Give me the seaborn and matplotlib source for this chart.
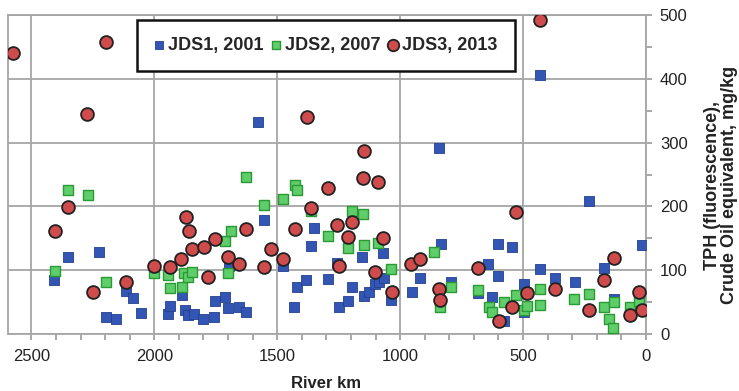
import numpy as np
import pandas as pd
import matplotlib
matplotlib.use("Agg")
import matplotlib.pyplot as plt
from matplotlib.ticker import MultipleLocator
import seaborn as sns

# ---- data (river km, TPH mg/kg) ----
jds1_km = [2408, 2350, 2226, 2197, 2157, 2115, 2088, 2053, 1943, 1935, 1888, 1876, 1862, 1840,
           1802, 1758, 1752, 1713, 1699, 1697, 1654, 1625, 1580, 1555, 1476, 1430, 1419, 1381,
           1362, 1350, 1294, 1256, 1248, 1213, 1195, 1154, 1148, 1127, 1101, 1084, 1064, 1071,
           1036, 953, 920, 843, 833, 793, 685, 642, 626, 601, 600, 576, 546, 497, 498, 433,
           430, 372, 290, 231, 170, 132, 18]
jds1_tph = [84, 120, 129, 27, 24, 68, 57, 33, 31, 44, 61, 38, 30, 31,
            24, 27, 52, 58, 40, 107, 42, 34, 332, 178, 106, 43, 74, 84,
            138, 166, 86, 112, 43, 52, 73, 121, 59, 66, 79, 82, 88, 127,
            54, 66, 88, 292, 141, 82, 65, 110, 58, 141, 91, 20, 136, 34, 79, 102,
            406, 87, 82, 208, 104, 55, 139]

jds2_km = [2405, 2350, 2270, 2197, 2000, 1943, 1935, 1888, 1880, 1862, 1848, 1713, 1699, 1686,
           1625, 1554, 1476, 1428, 1419, 1362, 1294, 1211, 1195, 1153, 1148, 1091, 1036, 861,
           836, 793, 684, 638, 626, 579, 527, 496, 484, 430, 433, 291, 231, 170, 132, 152,
           133, 64, 27]
jds2_tph = [99, 225, 218, 81, 95, 92, 72, 74, 95, 89, 97, 145, 95, 161,
            246, 202, 211, 234, 225, 193, 153, 135, 193, 188, 140, 143, 102, 128,
            42, 73, 69, 43, 34, 50, 61, 38, 44, 71, 45, 55, 62, 43, 50, 24,
            10, 43, 52]

jds3_km = [2573, 2405, 2350, 2275, 2248, 2197, 2115, 2000, 1935, 1892, 1873, 1859, 1848, 1798,
           1783, 1752, 1699, 1654, 1625, 1554, 1526, 1476, 1428, 1377, 1362, 1294, 1258, 1247,
           1213, 1195, 1153, 1148, 1103, 1091, 1071, 1035, 954, 920, 840, 836, 683, 599,
           545, 528, 484, 430, 372, 232, 170, 132, 64, 27, 16]
jds3_tph = [441, 161, 199, 345, 66, 458, 82, 107, 105, 117, 184, 161, 133, 137,
            90, 149, 120, 110, 165, 105, 133, 117, 165, 340, 198, 229, 171, 107,
            152, 175, 244, 287, 97, 238, 150, 66, 110, 117, 70, 54, 103, 21,
            42, 191, 64, 492, 70, 38, 84, 119, 29, 66, 38]

series_names = ["JDS1, 2001", "JDS2, 2007", "JDS3, 2013"]
x_ticks = [2500, 2000, 1500, 1000, 500, 0]
y_ticks = [0, 100, 200, 300, 400, 500]

sns.set_theme(style="white")
plt.rcParams['font.family'] = ['Liberation Sans', 'DejaVu Sans']

fig = plt.figure(figsize=(7.39, 3.91), dpi=100)
ax = fig.add_axes([8 / 739, 1 - 334 / 391, (646 - 8) / 739, (334 - 15) / 391])

sns.scatterplot(x=jds1_km, y=jds1_tph, ax=ax, marker="s", s=46, color="#3355b3",
                edgecolor="#22408f", linewidth=0.6, label=series_names[0], zorder=3)
sns.scatterplot(x=jds2_km, y=jds2_tph, ax=ax, marker="s", s=46, color="#5fce6a",
                edgecolor="#2a9a35", linewidth=1.0, label=series_names[1], zorder=3)
sns.scatterplot(x=jds3_km, y=jds3_tph, ax=ax, marker="o", s=85, color="#d04b4b",
                edgecolor="#222222", linewidth=1.3, label=series_names[2], zorder=4)

ax.set_xlim(2595, 0)
ax.set_ylim(0, 500)
ax.set_xticks(x_ticks)
ax.set_yticks(y_ticks)
ax.xaxis.set_minor_locator(MultipleLocator(100))
ax.yaxis.set_minor_locator(MultipleLocator(50))
ax.yaxis.tick_right()
ax.yaxis.set_label_position("right")
ax.tick_params(axis="both", which="both", colors="#999999", labelcolor="#222222",
               labelsize=12, direction="out")
ax.tick_params(axis="x", which="both", bottom=True, length=4, width=1.2, pad=7)
ax.tick_params(axis="y", which="both", right=True, left=False, length=4, width=1.2, pad=6)

ax.grid(True, which="major", color="#a6a6a6", linewidth=1.3)
ax.set_axisbelow(True)
for sp in ax.spines.values():
    sp.set_color("#a6a6a6")
    sp.set_linewidth(1.3)

ax.set_xlabel("River km", fontsize=12, fontweight="bold", color="#222222")
ax.xaxis.set_label_coords(0.498, (334 - 376) / 319)
ax.set_ylabel("TPH (fluorescence),\nCrude Oil equivalent, mg/kg", fontsize=13,
              fontweight="bold", color="#222222", linespacing=1.0)
ax.yaxis.set_label_coords((704 - 8) / 638, (334 - 185) / 319)

leg = ax.legend(loc="upper left", bbox_to_anchor=((137 - 8) / 638, 1 - 5 / 319), ncol=3,
                frameon=True, fancybox=False, framealpha=1, edgecolor="#111111",
                prop={"weight": "bold", "size": 13}, handletextpad=0.25,
                columnspacing=0.45, borderpad=0.95, markerscale=0.9, handlelength=0.5,
                borderaxespad=0)
leg.get_frame().set_linewidth(1.8)

fig.savefig("out.png", dpi=100)
